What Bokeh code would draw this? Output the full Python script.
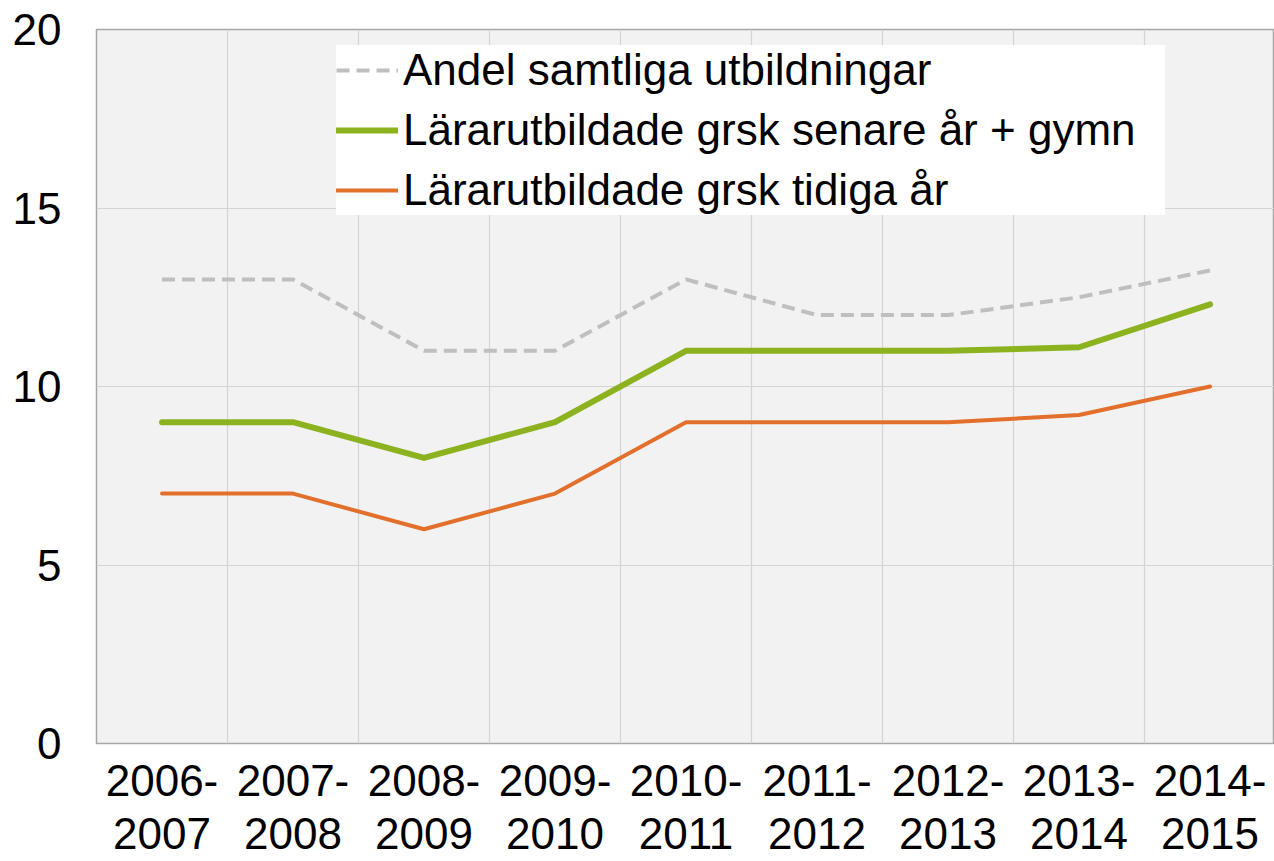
from bokeh.plotting import figure
from bokeh.models import Range1d, FixedTicker, Legend, LegendItem, ColumnDataSource
from bokeh.embed import file_html
from bokeh.resources import INLINE

periods = ["2006-\n2007", "2007-\n2008", "2008-\n2009", "2009-\n2010", "2010-\n2011",
           "2011-\n2012", "2012-\n2013", "2013-\n2014", "2014-\n2015"]
andel_samtliga = [13, 13, 11, 11, 13, 12, 12, 12.5, 13.25]
senare_gymn = [9, 9, 8, 9, 11, 11, 11, 11.1, 12.3]
tidiga_ar = [7, 7, 6, 7, 9, 9, 9, 9.2, 10]
series_names = ["Andel samtliga utbildningar",
                "Lärarutbildade grsk senare år + gymn",
                "Lärarutbildade grsk tidiga år"]
y_ticks = [0, 5, 10, 15, 20]

xs = list(range(len(periods)))
FONT = "Liberation Sans"
FS = "44px"

p = figure(width=1274, height=861, output_backend="svg", toolbar_location=None,
           x_range=Range1d(-0.5, 8.492), y_range=Range1d(0, 20),
           min_border_left=96, min_border_right=0, min_border_top=29, min_border_bottom=116)
p.background_fill_color = "#F2F2F2"
p.border_fill_color = "white"
p.outline_line_color = "#A6A6A6"
p.outline_line_width = 1.5

src = ColumnDataSource(dict(x=xs, a=andel_samtliga, s=senare_gymn, t=tidiga_ar))
r1 = p.line("x", "a", source=src, line_color="#BFBFBF", line_width=4, line_dash="13 7")
r2 = p.line("x", "s", source=src, line_color="#8CB31F", line_width=6, line_cap="round", line_join="round")
r3 = p.line("x", "t", source=src, line_color="#E2702C", line_width=4, line_cap="round", line_join="round")

# axes
p.xaxis.ticker = FixedTicker(ticks=xs)
p.xaxis.major_label_overrides = {i: lab for i, lab in zip(xs, periods)}
p.yaxis.ticker = FixedTicker(ticks=y_ticks)
for ax in (p.xaxis[0], p.yaxis[0]):
    ax.axis_line_color = None
    ax.major_tick_line_color = None
    ax.minor_tick_line_color = None
    ax.major_tick_out = 0
    ax.major_tick_in = 0
    ax.minor_tick_out = 0
    ax.minor_tick_in = 0
    ax.major_label_text_font = FONT
    ax.major_label_text_font_size = FS
    ax.major_label_text_color = "black"
p.yaxis.major_label_standoff = 35
p.xaxis.major_label_standoff = 12
p.xaxis.major_label_text_line_height = 1.1

# grid
p.xgrid.ticker = FixedTicker(ticks=[i + 0.5 for i in xs[:-1]])
p.ygrid.ticker = FixedTicker(ticks=y_ticks)
p.xgrid.grid_line_color = "#D4D4D4"
p.ygrid.grid_line_color = "#D4D4D4"
p.xgrid.grid_line_width = 1.2
p.ygrid.grid_line_width = 1.2

legend = Legend(items=[LegendItem(label=series_names[0], renderers=[r1]),
                       LegendItem(label=series_names[1], renderers=[r2]),
                       LegendItem(label=series_names[2], renderers=[r3])],
                location=(240, 528))
legend.padding = 2
legend.spacing = 10
legend.label_height = 20
legend.glyph_height = 20
legend.glyph_width = 62
legend.label_standoff = 5
legend.label_width = 762
legend.label_text_font = FONT
legend.label_text_font_size = FS
legend.label_text_color = "black"
legend.border_line_color = None
legend.background_fill_color = "white"
legend.background_fill_alpha = 1.0
legend.margin = 0
p.add_layout(legend)

open("out.html", "w").write(file_html(p, INLINE))
